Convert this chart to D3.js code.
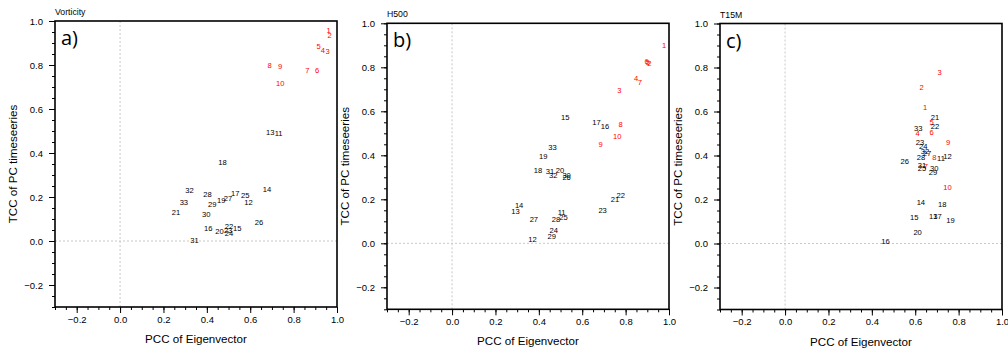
<!DOCTYPE html>
<html>
<head>
<meta charset="utf-8">
<script src="https://cdn.jsdelivr.net/npm/d3@7"></script>
<style>
  html, body { margin: 0; padding: 0; background: #fff; }
  svg { display: block; font-family: "Liberation Sans", Arial, Helvetica, sans-serif; }
</style>
</head>
<body>
<svg id="chart" width="1008" height="349"></svg>
<script>
// Ensemble member numbers (1-10 highlighted in red)
const members = d3.range(1, 34).map(String);

// Vorticity: PCC of eigenvector (x) and TCC of PC time series (y)
const vortX = [0.961,0.966,0.957,0.935,0.915,0.908,0.863,0.689,0.738,0.738,
               0.731,0.592,0.692,0.677,0.540,0.406,0.531,0.472,0.466,0.458,
               0.258,0.502,0.498,0.502,0.577,0.640,0.497,0.403,0.425,0.397,
               0.343,0.320,0.294];
const vortY = [0.955,0.933,0.861,0.865,0.883,0.773,0.774,0.799,0.794,0.715,
               0.488,0.176,0.494,0.233,0.058,0.055,0.215,0.359,0.186,0.044,
               0.130,0.064,0.049,0.032,0.205,0.083,0.194,0.212,0.167,0.120,
               0.001,0.230,0.177];

// H500
const h500X = [0.977,0.909,0.771,0.848,0.903,0.897,0.866,0.777,0.685,0.761,
               0.505,0.371,0.292,0.309,0.522,0.705,0.666,0.396,0.420,0.497,
               0.751,0.778,0.694,0.469,0.514,0.528,0.377,0.479,0.459,0.528,
               0.451,0.466,0.463];
const h500Y = [0.897,0.818,0.694,0.747,0.822,0.827,0.730,0.538,0.451,0.485,
               0.139,0.018,0.145,0.174,0.573,0.530,0.550,0.333,0.394,0.330,
               0.197,0.215,0.147,0.060,0.117,0.300,0.110,0.106,0.030,0.308,
               0.326,0.306,0.435];

// T15M
const t15mX = [0.645,0.629,0.712,0.611,0.676,0.676,0.649,0.688,0.752,0.749,
               0.719,0.749,0.683,0.626,0.595,0.463,0.703,0.725,0.763,0.611,
               0.691,0.691,0.622,0.637,0.631,0.552,0.654,0.627,0.682,0.688,
               0.631,0.645,0.614];
const t15mY = [0.616,0.708,0.776,0.498,0.548,0.503,0.352,0.389,0.459,0.254,
               0.385,0.396,0.124,0.185,0.120,0.010,0.124,0.178,0.106,0.049,
               0.573,0.533,0.461,0.439,0.340,0.374,0.410,0.393,0.323,0.340,
               0.355,0.417,0.523];

const panelTitles = ["Vorticity", "H500", "T15M"];
const panelTags = ["a)", "b)", "c)"];
const xTicks = [-0.2, 0.0, 0.2, 0.4, 0.6, 0.8, 1.0];
const yTicks = [-0.2, 0.0, 0.2, 0.4, 0.6, 0.8, 1.0];
const xTitle = "PCC of Eigenvector";
const yTitle = "TCC of PC timeseeries";

const panels = [
  { xs: vortX, ys: vortY },
  { xs: h500X, ys: h500Y },
  { xs: t15mX, ys: t15mY }
];

// Layout of the three plot frames
const frameLeft = [55, 387, 720];
const frameTop = [21, 23.3, 23.5];
const frameW = 282;
const frameH = 286;

const svg = d3.select("#chart");
const fmt = d3.format(".1f");

panels.forEach((p, i) => {
  const g = svg.append("g").attr("transform", `translate(${frameLeft[i]},${frameTop[i]})`);
  const x = d3.scaleLinear().domain([-0.3, 1.0]).range([0, frameW]);
  const y = d3.scaleLinear().domain([-0.3, 1.0]).range([frameH, 0]);

  // zero reference lines
  g.append("line")
    .attr("x1", x(0)).attr("x2", x(0)).attr("y1", 0).attr("y2", frameH)
    .attr("stroke", "#c8c8c8").attr("stroke-width", 1).attr("stroke-dasharray", "2,2");
  g.append("line")
    .attr("x1", 0).attr("x2", frameW).attr("y1", y(0)).attr("y2", y(0))
    .attr("stroke", "#c8c8c8").attr("stroke-width", 1).attr("stroke-dasharray", "2,2");

  // minor ticks every 0.05
  const minor = d3.range(-0.3, 1.0001, 0.05).map(v => Math.round(v * 100) / 100);
  const xMinor = d3.axisBottom(x).tickValues(minor).tickSize(3).tickFormat("");
  const yMinor = d3.axisLeft(y).tickValues(minor).tickSize(3).tickFormat("");
  g.append("g").attr("transform", `translate(0,${frameH})`).call(xMinor)
    .call(a => a.select(".domain").remove())
    .selectAll("line").attr("stroke", "#000").attr("stroke-width", 1);
  g.append("g").call(yMinor)
    .call(a => a.select(".domain").remove())
    .selectAll("line").attr("stroke", "#000").attr("stroke-width", 1);

  // major ticks with labels
  const xAxis = d3.axisBottom(x).tickValues(xTicks).tickSize(6).tickPadding(3).tickFormat(fmt);
  const yAxis = d3.axisLeft(y).tickValues(yTicks).tickSize(6).tickPadding(6).tickFormat(fmt);
  const gx = g.append("g").attr("transform", `translate(0,${frameH})`).call(xAxis);
  gx.select(".domain").remove();
  gx.selectAll("line").attr("stroke", "#000").attr("stroke-width", 1);
  gx.selectAll("text").attr("font-size", 9.5).attr("fill", "#000")
    .attr("font-family", "Liberation Sans, Arial, sans-serif");
  const gy = g.append("g").call(yAxis);
  gy.select(".domain").remove();
  gy.selectAll("line").attr("stroke", "#000").attr("stroke-width", 1);
  gy.selectAll("text").attr("font-size", 9.5).attr("fill", "#000")
    .attr("font-family", "Liberation Sans, Arial, sans-serif");

  // frame
  g.append("rect").attr("x", 0).attr("y", 0).attr("width", frameW).attr("height", frameH)
    .attr("fill", "none").attr("stroke", "#000").attr("stroke-width", 1.6);

  // member number markers
  g.append("g").selectAll("text")
    .data(members)
    .join("text")
    .attr("x", (d, k) => x(p.xs[k]))
    .attr("y", (d, k) => y(p.ys[k]))
    .attr("text-anchor", "middle")
    .attr("dominant-baseline", "central")
    .attr("font-size", 7.6)
    .attr("fill", (d, k) => k < 10 ? "#ff0000" : "#000")
    .text(d => d);

  // panel tag
  g.append("text").attr("x", 6).attr("y", 24)
    .attr("font-family", "Open Sans, sans-serif").attr("font-size", 20)
    .attr("fill", "#000").text(panelTags[i]);

  // panel title
  g.append("text").attr("x", 0).attr("y", -6)
    .attr("font-size", 8.7).attr("fill", "#000").text(panelTitles[i]);

  // axis titles
  g.append("text").attr("x", frameW / 2).attr("y", frameH + 36)
    .attr("text-anchor", "middle").attr("font-size", 11.6).attr("fill", "#000").text(xTitle);
  g.append("text")
    .attr("transform", `translate(-38,${frameH / 2}) rotate(-90)`)
    .attr("text-anchor", "middle").attr("font-size", 11.6).attr("fill", "#000").text(yTitle);
});
</script>
</body>
</html>
